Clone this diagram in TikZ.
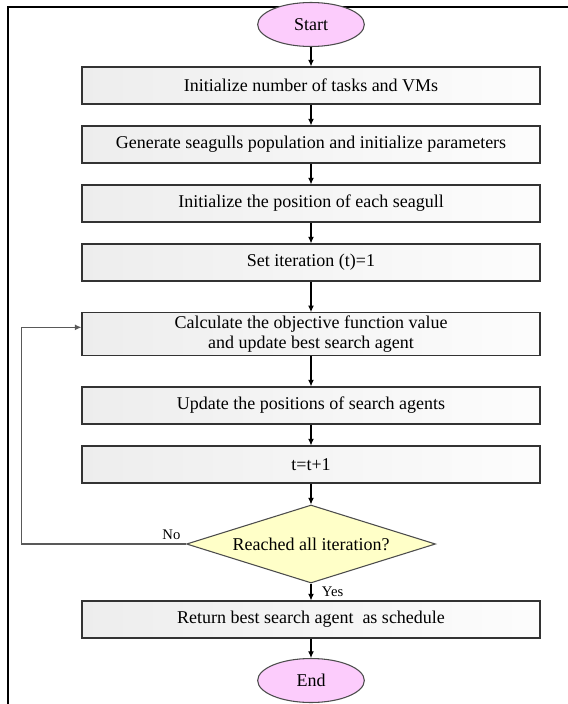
\documentclass[tikz,border=0pt]{standalone}
\usepackage{fontspec}
\setmainfont{Liberation Serif}
\usetikzlibrary{shapes.geometric,arrows.meta}
\definecolor{termpink}{RGB}{252,204,252}
\definecolor{decyellow}{RGB}{255,255,200}
\tikzset{
    procbox/.style={draw=black!80, line width=0.8pt, left color=black!7, right color=black!1,
        minimum width=343.5pt, minimum height=27.75pt, align=center, inner sep=2pt,
        font=\fontsize{13.5}{15.5}\selectfont},
    termnode/.style={ellipse, draw=black!70, line width=0.8pt, fill=termpink,
        minimum width=80pt, minimum height=33pt, inner sep=0pt,
        font=\fontsize{13.5}{15.5}\selectfont},
    decnode/.style={diamond, aspect=3.2, draw=black!70, line width=0.8pt, fill=decyellow,
        minimum width=186.75pt, minimum height=58.5pt, inner sep=0pt,
        font=\fontsize{13.5}{15.5}\selectfont},
    flow/.style={-{Latex[length=5pt,width=4.5pt]}, line width=0.9pt},
    loopline/.style={-{Latex[length=5pt,width=4.5pt]}, draw=black!65, line width=0.9pt},
    lbl/.style={font=\fontsize{11}{13}\selectfont, inner sep=1pt}
}
\begin{document}
\begin{tikzpicture}[x=0.75pt, y=-0.75pt]
    \useasboundingbox (0,0) rectangle (568,704);
    % frame, left and top sides only
    \draw[line width=1.5pt] (8,704) -- (8,6.5) -- (568,6.5);
    \node[termnode] (start) at (311,24.5) {Start};
    \foreach \i/\yy/\txt in {1/85.5/Initialize number of tasks and VMs,
        2/144.5/Generate seagulls population and initialize parameters,
        3/203.5/Initialize the position of each seagull,
        4/262.5/Set iteration (t)=1,
        5/334/{Calculate the objective function value\\and update best search agent},
        6/405.5/Update the positions of search agents,
        7/464.5/t=t+1}{
        \node[procbox] (b\i) at (311,\yy) {\txt};
    }
    \node[decnode] (dec) at (311,544) {Reached all iteration?};
    \node[procbox] (b8) at (311,619.5) {Return best search agent\ \ as schedule};
    \node[termnode] (end) at (311,680.5) {End};
    % main flow
    \foreach \a/\b in {start/b1,b1/b2,b2/b3,b3/b4,b4/b5,b5/b6,b6/b7,b7/dec,dec/b8,b8/end}{
        \draw[flow] (\a) -- (\b);
    }
    % back to the loop start
    \coordinate (loopx) at (21.5,544);
    \draw[loopline] (dec.west) -- (loopx) |- ([yshift=5pt]b5.west);
    \node[lbl, anchor=south east] (nolbl) at ([xshift=-3pt,yshift=2pt]dec.west) {No};
    \node[lbl, anchor=north west] (yeslbl) at ([xshift=7pt,yshift=-1pt]dec.south) {Yes};
\end{tikzpicture}
\end{document}
